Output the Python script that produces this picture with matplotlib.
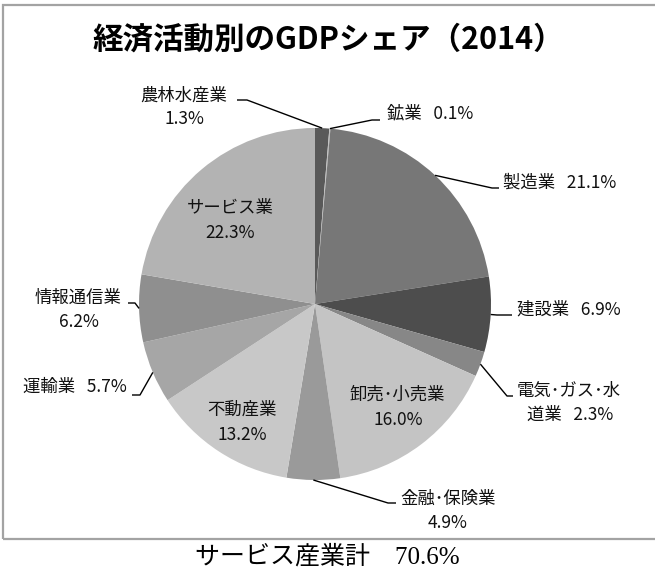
import numpy as np
import matplotlib
matplotlib.use("Agg")
import matplotlib.pyplot as plt
from matplotlib.patches import Rectangle

plt.rcParams['font.family'] = ['Noto Sans CJK JP', 'DejaVu Sans']

# ---- data ----
categories = ["農林水産業", "鉱業", "製造業", "建設業", "電気・ガス・水道業",
              "卸売・小売業", "金融・保険業", "不動産業", "運輸業", "情報通信業", "サービス業"]
shares = [1.3, 0.1, 21.1, 6.9, 2.3, 16.0, 4.9, 13.2, 5.7, 6.2, 22.3]
colors = ["#595959", "#bdbdbd", "#777777", "#4d4d4d", "#878787",
          "#c4c4c4", "#9a9a9a", "#c8c8c8", "#a6a6a6", "#8f8f8f", "#b3b3b3"]
title = "経済活動別のGDPシェア（2014）"
footer = "サービス産業計\u300070.6%"

W, H = 655, 576
fig = plt.figure(figsize=(W / 100, H / 100), dpi=100)
ax = fig.add_axes([0, 0, 1, 1])

def Y(py):
    return H - py

def disp(s):
    # narrower (proportional-looking) middle dot as in the reference
    return s.replace("・", "\uff65")

CX, CY, R = 315, 304, 176
wedges, _ = ax.pie(shares, colors=colors, startangle=90, counterclock=False,
                   center=(CX, Y(CY)), radius=R, frame=True,
                   wedgeprops=dict(linewidth=0))
ax.set_xlim(0, W)
ax.set_ylim(0, H)
ax.set_aspect('auto')
ax.axis('off')

# chart frame
ax.add_patch(Rectangle((3, Y(539)), 720, 534, fill=False, edgecolor="#a3a3a3",
                       lw=1.6, clip_on=False))

ax.text(328, Y(40), title, fontsize=22, fontweight='bold', ha='center', va='center')

FS = 12.5
sp = "   "
layout = {
    0: dict(lines=[(categories[0], 184, 96, 'center'), (f"{shares[0]:.1f}%", 184, 119, 'center')],
            leader=[(247, 100), (237, 100)]),
    1: dict(lines=[(f"{categories[1]}{sp}{shares[1]:.1f}%", 387, 113, 'left')],
            leader=[(372, 120), (380, 120)]),
    2: dict(lines=[(f"{categories[2]}{sp}{shares[2]:.1f}%", 503, 183, 'left')],
            leader=[(492, 188), (499, 188)]),
    3: dict(lines=[(f"{categories[3]}{sp}{shares[3]:.1f}%", 517, 310, 'left')],
            leader=[(497, 315), (512, 315)]),
    4: dict(lines=[("電気・ガス・水", 517, 391, 'left'), (f"道業{sp}{shares[4]:.1f}%", 570, 415, 'center')],
            leader=[(507, 396), (513, 396)]),
    5: dict(lines=[(categories[5], 397, 395, 'center'), (f"{shares[5]:.1f}%", 398, 420, 'center')]),
    6: dict(lines=[(categories[6], 400, 499, 'left'), (f"{shares[6]:.1f}%", 448, 523, 'center')],
            leader=[(388, 503), (396, 503)]),
    7: dict(lines=[(categories[7], 242, 410, 'center'), (f"{shares[7]:.1f}%", 242, 435, 'center')]),
    8: dict(lines=[(f"{categories[8]}{sp}{shares[8]:.1f}%", 127, 387, 'right')],
            leader=[(140, 395), (132, 395)]),
    9: dict(lines=[(categories[9], 78, 298, 'center'), (f"{shares[9]:.1f}%", 79, 322, 'center')],
            leader=[(135, 303), (128, 303)]),
    10: dict(lines=[(categories[10], 230, 208, 'center'), (f"{shares[10]:.1f}%", 230, 233, 'center')]),
}

for i, w in enumerate(wedges):
    spec = layout[i]
    for txt, x, y, ha in spec['lines']:
        ax.text(x, Y(y), disp(txt), fontsize=FS, ha=ha, va='center', color='#111111')
    if 'leader' in spec:
        mid = np.deg2rad((w.theta1 + w.theta2) / 2)
        ex, ey = CX + R * np.cos(mid), Y(CY) + R * np.sin(mid)
        xs = [ex] + [p[0] for p in spec['leader']]
        ys = [ey] + [Y(p[1]) for p in spec['leader']]
        ax.plot(xs, ys, color='black', lw=1.0, solid_capstyle='butt')

ax.text(327, Y(557), footer, fontsize=18, ha='center', va='center',
        family=['Liberation Serif', 'Noto Sans CJK JP'])

fig.savefig("out.png", dpi=100)
